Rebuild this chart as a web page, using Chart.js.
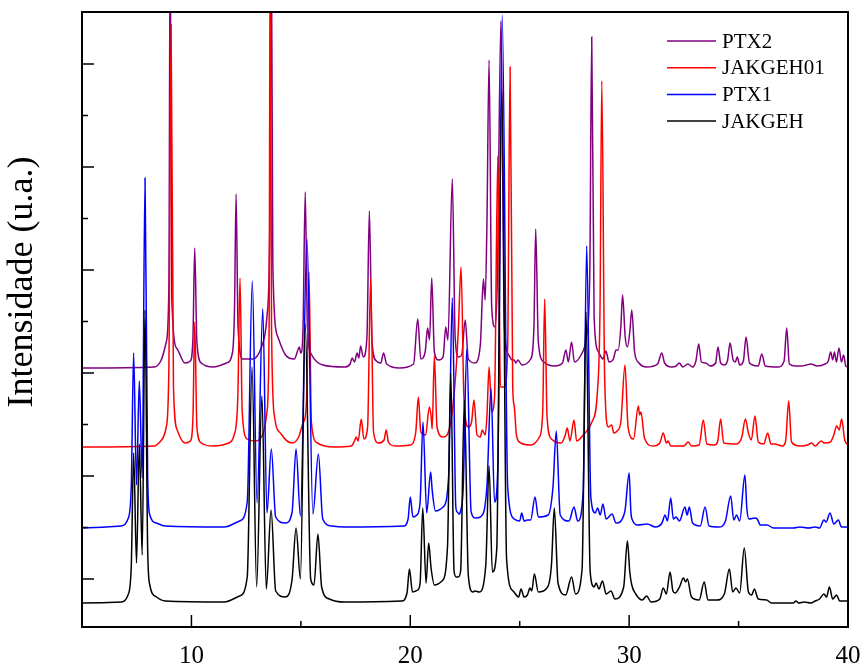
<!DOCTYPE html>
<html>
<head>
<meta charset="utf-8">
<title>DRX PTX1 / PTX2</title>
<script src="https://cdn.jsdelivr.net/npm/chart.js@4.4.1/dist/chart.umd.min.js"></script>
<style>
  html, body { margin: 0; padding: 0; background: #fff; }
  #chartDrx { display: block; }
</style>
</head>
<body>
<canvas id="chartDrx" width="864" height="665"></canvas>
<script>
// Difractogramas: [2theta, intensidad (u.a., ya desplazada)]
const jakgeh = [[5,24],[6.8,25],[7.1,32],[7.25,60],[7.36,174],[7.49,64],[7.62,183],[7.75,72],[7.88,317],[8.0,78],[8.1,42],[8.4,30],[8.8,26],[11.5,25],[12.2,31],[12.55,50],[12.77,260],[12.98,40],[13.22,231],[13.42,38],[13.64,117],[13.85,36],[14.3,30],[14.6,48],[14.78,99],[14.98,48],[15.2,303],[15.45,48],[15.6,42],[15.78,93],[15.95,40],[16.3,28],[17,25],[19.6,26],[19.85,34],[19.96,58],[20.1,35],[20.25,36],[20.34,37],[20.45,44],[20.57,119],[20.72,44],[20.84,84],[20.95,59],[21.1,42],[21.45,46],[21.7,80],[21.85,254],[22.0,56],[22.1,50],[22.19,50],[22.3,56],[22.47,227],[22.65,52],[22.85,35],[22.96,36],[23.15,35],[23.45,62],[23.6,161],[23.75,55],[23.95,78],[24.18,538],[24.4,68],[24.7,36],[24.95,30],[25.06,38],[25.2,30],[25.35,32],[25.47,39],[25.55,36],[25.67,53],[25.85,35],[26.2,38],[26.45,62],[26.58,119],[26.75,44],[27.1,32],[27.37,50],[27.55,33],[27.85,58],[28.03,315],[28.22,55],[28.4,40],[28.49,44],[28.62,38],[28.78,46],[28.95,33],[29.17,36],[29.35,28],[29.75,40],[29.92,86],[30.03,55],[30.12,42],[30.3,33],[30.6,27],[30.8,31],[31.0,25],[31.4,28],[31.56,39],[31.7,33],[31.87,55],[32.0,36],[32.1,34],[32.3,40],[32.48,49],[32.58,45],[32.66,48],[32.85,30],[33.2,27],[33.43,45],[33.6,27],[34.0,27],[34.35,33],[34.58,58],[34.73,35],[34.88,39],[35.05,34],[35.26,79],[35.45,35],[35.6,32],[35.72,38],[35.9,28],[36.28,27],[36.5,24],[37.5,24],[37.62,26],[37.75,24],[38.0,25],[38.3,24],[38.5,26],[38.7,28],[38.9,33],[39.02,30],[39.15,40],[39.3,28],[39.48,32],[39.62,26],[40,26]];

const ptx1 = [[5,99],[6.8,101],[7.1,108],[7.25,140],[7.36,274],[7.49,142],[7.62,246],[7.75,149],[7.88,449],[8.0,150],[8.1,112],[8.4,104],[8.8,101],[11.5,100],[12.2,106],[12.55,125],[12.78,346],[13.0,124],[13.26,318],[13.45,114],[13.65,178],[13.85,110],[14.3,104],[14.6,115],[14.78,178],[14.98,111],[15.28,388],[15.55,113],[15.8,173],[16.0,108],[16.4,101],[17,100],[19.7,101],[19.9,108],[20.0,130],[20.12,110],[20.3,112],[20.45,125],[20.58,205],[20.75,114],[20.93,155],[21.0,137],[21.15,116],[21.5,120],[21.75,150],[21.92,329],[22.08,120],[22.15,115],[22.22,113],[22.3,116],[22.42,140],[22.58,278],[22.78,115],[22.99,109],[23.2,110],[23.5,140],[23.69,239],[23.85,125],[24.0,160],[24.2,612],[24.45,140],[24.75,108],[25.0,106],[25.09,114],[25.2,106],[25.35,107],[25.5,107],[25.7,130],[25.85,110],[26.3,112],[26.52,140],[26.67,196],[26.85,112],[27.25,106],[27.48,120],[27.65,106],[27.9,135],[28.06,381],[28.25,130],[28.45,114],[28.56,119],[28.68,112],[28.8,123],[28.95,108],[29.22,113],[29.4,104],[29.8,115],[30.0,154],[30.08,115],[30.15,107],[30.4,102],[30.83,103],[31.2,100],[31.5,104],[31.64,112],[31.75,106],[31.9,129],[32.02,108],[32.14,110],[32.3,106],[32.55,120],[32.65,112],[32.75,120],[32.9,104],[33.25,101],[33.47,120],[33.65,101],[34.1,100],[34.4,106],[34.64,131],[34.78,107],[34.91,112],[35.05,106],[35.29,152],[35.38,118],[35.48,108],[35.75,109],[35.85,108],[36.0,102],[36.3,102],[36.6,99],[37.5,99],[37.8,100],[38.2,99],[38.5,100],[38.7,99],[38.9,107],[39.0,105],[39.18,114],[39.35,103],[39.56,107],[39.7,100],[40,100]];

const jakgeh01 = [[5,180],[8.3,181],[8.6,186],[8.85,200],[8.97,260],[9.07,602],[9.18,240],[9.35,197],[9.7,184],[9.95,186],[10.07,210],[10.15,305],[10.25,200],[10.45,184],[11.0,181],[11.7,184],[11.95,192],[12.12,230],[12.22,349],[12.32,215],[12.55,188],[12.95,186],[13.25,192],[13.45,215],[13.55,300],[13.6,700],[13.66,300],[13.8,210],[14.1,193],[14.6,184],[14.9,190],[15.1,204],[15.2,210],[15.28,240],[15.37,355],[15.48,205],[15.75,184],[16.5,180],[17.3,181],[17.45,186],[17.53,190],[17.62,186],[17.76,208],[17.88,188],[18.05,200],[18.19,349],[18.32,195],[18.55,184],[18.8,187],[18.9,197],[19.0,185],[19.3,181],[20.0,182],[20.25,195],[20.37,230],[20.48,195],[20.7,192],[20.87,220],[20.95,211],[21.0,198],[21.1,271],[21.22,200],[21.5,190],[21.85,205],[22.1,260],[22.2,300],[22.32,360],[22.45,230],[22.65,200],[22.8,205],[22.91,227],[23.05,192],[23.2,190],[23.29,197],[23.42,192],[23.5,210],[23.6,260],[23.72,215],[23.85,230],[24.0,471],[24.12,240],[24.3,240],[24.45,280],[24.56,560],[24.68,240],[24.75,221],[24.85,192],[25.05,184],[25.5,182],[25.9,190],[26.05,215],[26.14,328],[26.25,210],[26.45,188],[26.9,184],[27.08,192],[27.17,199],[27.3,186],[27.48,207],[27.6,186],[27.9,192],[28.3,205],[28.55,235],[28.67,320],[28.75,546],[28.88,250],[29.05,200],[29.2,202],[29.3,194],[29.45,196],[29.62,205],[29.81,262],[29.95,200],[30.2,188],[30.42,221],[30.48,212],[30.54,215],[30.7,189],[31.1,181],[31.4,184],[31.56,194],[31.7,184],[31.78,186],[31.9,181],[32.5,181],[32.7,185],[32.85,181],[33.2,182],[33.39,207],[33.55,183],[33.9,182],[34.05,186],[34.18,208],[34.32,184],[34.9,183],[35.15,190],[35.31,208],[35.45,194],[35.58,187],[35.75,211],[35.9,185],[36.15,183],[36.33,194],[36.48,183],[36.65,183],[37.0,181],[37.15,186],[37.29,226],[37.42,185],[37.8,181],[38.15,182],[38.34,184],[38.5,181],[38.77,186],[38.92,184],[39.2,185],[39.35,192],[39.48,201],[39.6,197],[39.71,208],[39.85,187],[40,182]];

const ptx2 = [[5,259],[8.3,260],[8.6,266],[8.85,285],[8.97,340],[9.03,700],[9.1,330],[9.35,278],[9.7,264],[9.95,266],[10.07,290],[10.15,379],[10.25,285],[10.45,264],[11.0,260],[11.6,264],[11.88,275],[11.97,320],[12.04,433],[12.13,300],[12.35,268],[12.8,268],[13.2,280],[13.45,310],[13.58,400],[13.65,700],[13.72,360],[13.95,290],[14.3,272],[14.7,268],[14.88,278],[14.93,280],[15.0,274],[15.1,300],[15.2,435],[15.3,300],[15.5,272],[16.0,262],[17.0,260],[17.25,263],[17.34,269],[17.45,265],[17.57,274],[17.65,269],[17.73,281],[17.85,270],[18.02,290],[18.13,416],[18.25,285],[18.45,266],[18.65,264],[18.78,274],[18.92,263],[19.5,259],[20.15,263],[20.34,308],[20.48,268],[20.68,275],[20.79,299],[20.88,287],[20.98,349],[21.1,275],[21.3,267],[21.5,270],[21.62,300],[21.72,287],[21.92,448],[22.05,290],[22.2,270],[22.35,272],[22.51,307],[22.65,268],[22.95,264],[23.2,282],[23.34,348],[23.42,327],[23.5,400],[23.6,567],[23.72,320],[23.87,300],[23.98,350],[24.14,606],[24.3,300],[24.5,272],[24.65,267],[24.75,267],[24.82,264],[24.92,267],[25.1,262],[25.5,268],[25.65,300],[25.73,398],[25.85,285],[26.1,265],[26.6,261],[26.95,264],[27.11,277],[27.22,265],[27.37,285],[27.5,265],[27.8,272],[28.05,290],[28.2,350],[28.29,590],[28.4,310],[28.6,275],[28.8,268],[28.94,276],[29.08,265],[29.28,268],[29.4,277],[29.5,277],[29.62,300],[29.7,332],[29.82,290],[29.92,280],[30.03,295],[30.12,317],[30.25,275],[30.45,264],[30.8,260],[31.3,263],[31.49,274],[31.62,264],[31.95,260],[32.15,261],[32.29,264],[32.45,260],[32.68,263],[32.9,260],[33.05,266],[33.18,283],[33.3,265],[33.5,264],[33.7,261],[33.95,264],[34.06,280],[34.18,264],[34.35,262],[34.5,267],[34.61,284],[34.75,267],[34.85,265],[34.94,270],[35.05,262],[35.22,266],[35.34,290],[35.5,264],[35.9,261],[36.06,273],[36.22,261],[36.8,260],[37.08,266],[37.2,299],[37.32,263],[37.6,261],[37.9,261],[38.1,262],[38.3,263],[38.6,261],[38.95,263],[39.1,266],[39.21,275],[39.3,267],[39.38,275],[39.47,265],[39.59,279],[39.7,265],[39.8,272],[39.9,261],[40,260]];

const seriesNames = ['JAKGEH', 'PTX1', 'JAKGEH01', 'PTX2'];
const seriesColors = ['#000000', '#0000ff', '#ff0000', '#800080'];

// ticks del eje
const xLabelTicks = [10, 20, 30, 40];
const xMinorTicks = [15, 25, 35];
const yMajorTicks = [48, 151, 254, 357, 460, 563];
const yMinorTicks = [99.5, 202.5, 305.5, 408.5, 511.5];

const FONT = '"Liberation Serif", "Times New Roman", serif';

function toPoints(arr) {
    return arr.map(p => ({ x: p[0], y: p[1] }));
}

// marco, ticks hacia dentro, leyenda y título Y
const framePlugin = {
    id: 'framePlugin',
    afterDraw(chart) {
        const ctx = chart.ctx;
        const a = chart.chartArea;
        const xs = chart.scales.x;
        const ys = chart.scales.y;
        ctx.save();
        ctx.strokeStyle = '#000';
        ctx.lineWidth = 2;
        ctx.strokeRect(a.left, a.top, a.right - a.left, a.bottom - a.top);

        ctx.lineWidth = 1.5;
        ctx.beginPath();
        xLabelTicks.forEach(v => {
            const px = xs.getPixelForValue(v);
            ctx.moveTo(px, a.bottom); ctx.lineTo(px, a.bottom - 12);
        });
        xMinorTicks.forEach(v => {
            const px = xs.getPixelForValue(v);
            ctx.moveTo(px, a.bottom); ctx.lineTo(px, a.bottom - 6);
        });
        yMajorTicks.forEach(v => {
            const py = ys.getPixelForValue(v);
            ctx.moveTo(a.left, py); ctx.lineTo(a.left + 12, py);
        });
        yMinorTicks.forEach(v => {
            const py = ys.getPixelForValue(v);
            ctx.moveTo(a.left, py); ctx.lineTo(a.left + 6, py);
        });
        ctx.stroke();

        // leyenda (orden inverso a los datasets)
        ctx.font = '21px ' + FONT;
        ctx.textBaseline = 'middle';
        ctx.textAlign = 'left';
        const ds = chart.data.datasets.slice().reverse();
        ds.forEach((d, i) => {
            const y = 41 + i * 26.7;
            ctx.strokeStyle = d.borderColor;
            ctx.lineWidth = 1.5;
            ctx.beginPath();
            ctx.moveTo(667, y); ctx.lineTo(716, y);
            ctx.stroke();
            ctx.fillStyle = '#000';
            ctx.fillText(d.label, 722, y + 1);
        });

        // título del eje Y
        ctx.translate(23, 282);
        ctx.rotate(-Math.PI / 2);
        ctx.font = '36px ' + FONT;
        ctx.textAlign = 'center';
        ctx.fillText('Intensidade (u.a.)', 0, 0);
        ctx.restore();
    }
};

const canvas = document.getElementById('chartDrx');
const dataSeries = [jakgeh, ptx1, jakgeh01, ptx2];

new Chart(canvas.getContext('2d'), {
    type: 'line',
    data: {
        datasets: dataSeries.map((s, i) => ({
            label: seriesNames[i],
            data: toPoints(s),
            borderColor: seriesColors[i],
            borderWidth: 1.5,
            pointRadius: 0,
            cubicInterpolationMode: 'monotone',
            fill: false,
        })),
    },
    options: {
        responsive: false,
        animation: false,
        layout: { padding: { top: 12, right: 16, left: 0, bottom: 0 } },
        plugins: {
            legend: { display: false },
            tooltip: { enabled: false },
        },
        scales: {
            x: {
                type: 'linear',
                min: 5,
                max: 40,
                afterBuildTicks: (s) => { s.ticks = xLabelTicks.map(v => ({ value: v })); },
                afterFit: (s) => {
                    s.height = 38;
                    // el "40" puede salir del área, no reservar margen
                    s.paddingLeft = 0;
                    s.paddingRight = 0;
                },
                grid: { display: false, drawTicks: false },
                border: { display: false },
                ticks: {
                    color: '#000',
                    font: { family: FONT, size: 25 },
                    padding: 14,
                    maxRotation: 0,
                },
            },
            y: {
                type: 'linear',
                min: 0,
                max: 615,
                afterFit: (s) => { s.width = 82; },
                grid: { display: false, drawTicks: false },
                border: { display: false },
                ticks: { display: false },
            },
        },
    },
    plugins: [framePlugin],
});
console.log('[drx] grafico listo');
</script>
</body>
</html>
